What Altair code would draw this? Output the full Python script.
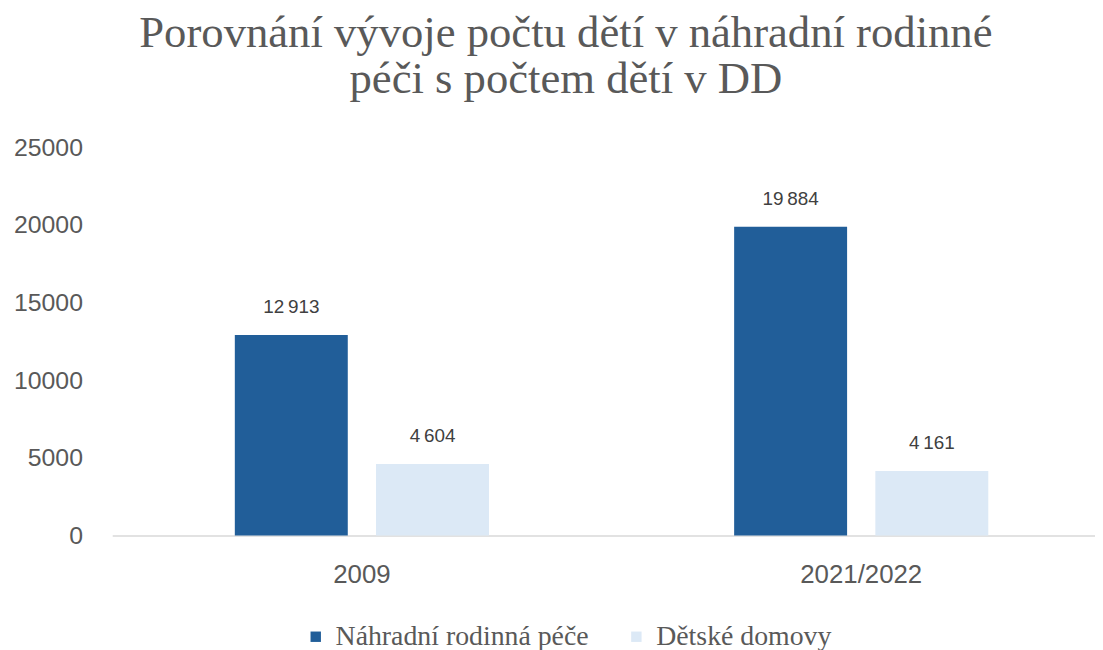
import altair as alt
import pandas as pd

categories = ["2009", "2021/2022"]
series = ["Náhradní rodinná péče", "Dětské domovy"]
nrp_values = [12913, 19884]
dd_values = [4604, 4161]
colors = ["#215E99", "#DCE9F6"]
title_lines = ["Porovnání vývoje počtu dětí v náhradní rodinné", "péči s počtem dětí v DD"]

rows = []
for i, c in enumerate(categories):
    for s, vals in zip(series, [nrp_values, dd_values]):
        v = vals[i]
        rows.append({"kat": c, "serie": s, "hodnota": v,
                     "popis": f"{v:,}".replace(",", "\u2009")})
df = pd.DataFrame(rows)

W = 990
H = 391

x = alt.X("kat:N", sort=categories, title=None,
          scale=alt.Scale(range=[0, 1006], paddingInner=0.491, paddingOuter=0.2455),
          axis=alt.Axis(domainColor="#D9D9D9", domainWidth=1.5, ticks=False,
                        labelFont="Liberation Sans", labelFontSize=26,
                        labelColor="#595959", labelPadding=26, labelAngle=0))
xo = alt.XOffset("serie:N", sort=series,
                 scale=alt.Scale(paddingInner=0.2, paddingOuter=0))
y = alt.Y("hodnota:Q", title=None,
          scale=alt.Scale(domain=[0, 25000]),
          axis=alt.Axis(values=[0, 5000, 10000, 15000, 20000, 25000], format="d",
                        grid=False, domain=False, ticks=False,
                        labelFont="Liberation Sans", labelFontSize=25,
                        labelColor="#595959", labelPadding=30))

base = alt.Chart(df)

bars = base.mark_bar().encode(
    x=x, xOffset=xo, y=y,
    color=alt.Color("serie:N", sort=series,
                    scale=alt.Scale(domain=series, range=colors),
                    legend=alt.Legend(title=None, orient="none", direction="horizontal",
                                      legendX=191, legendY=479,
                                      symbolType="square", symbolSize=110,
                                      symbolStrokeWidth=0,
                                      labelFont="Liberation Serif", labelFontSize=28,
                                      labelColor="#595959", labelOffset=6,
                                      columnPadding=34, labelLimit=400)),
)

labels = base.mark_text(font="Liberation Sans", fontSize=19, color="#404040",
                        baseline="bottom", dy=-18).encode(
    x=x, xOffset=xo, y=y, text="popis:N",
)

chart = alt.layer(bars, labels).properties(
    width=W, height=H,
    autosize=alt.AutoSizeParams(type="none"),
    padding={"left": 105, "top": 138, "right": 0, "bottom": 113},
    title=alt.TitleParams(text=title_lines, font="Liberation Serif", fontSize=45,
                          fontWeight="normal", color="#595959", anchor="middle",
                          dx=-38, offset=34, lineHeight=46),
).configure_view(stroke=None)

chart.save("out.html", embed_options={"renderer": "svg", "actions": False})
